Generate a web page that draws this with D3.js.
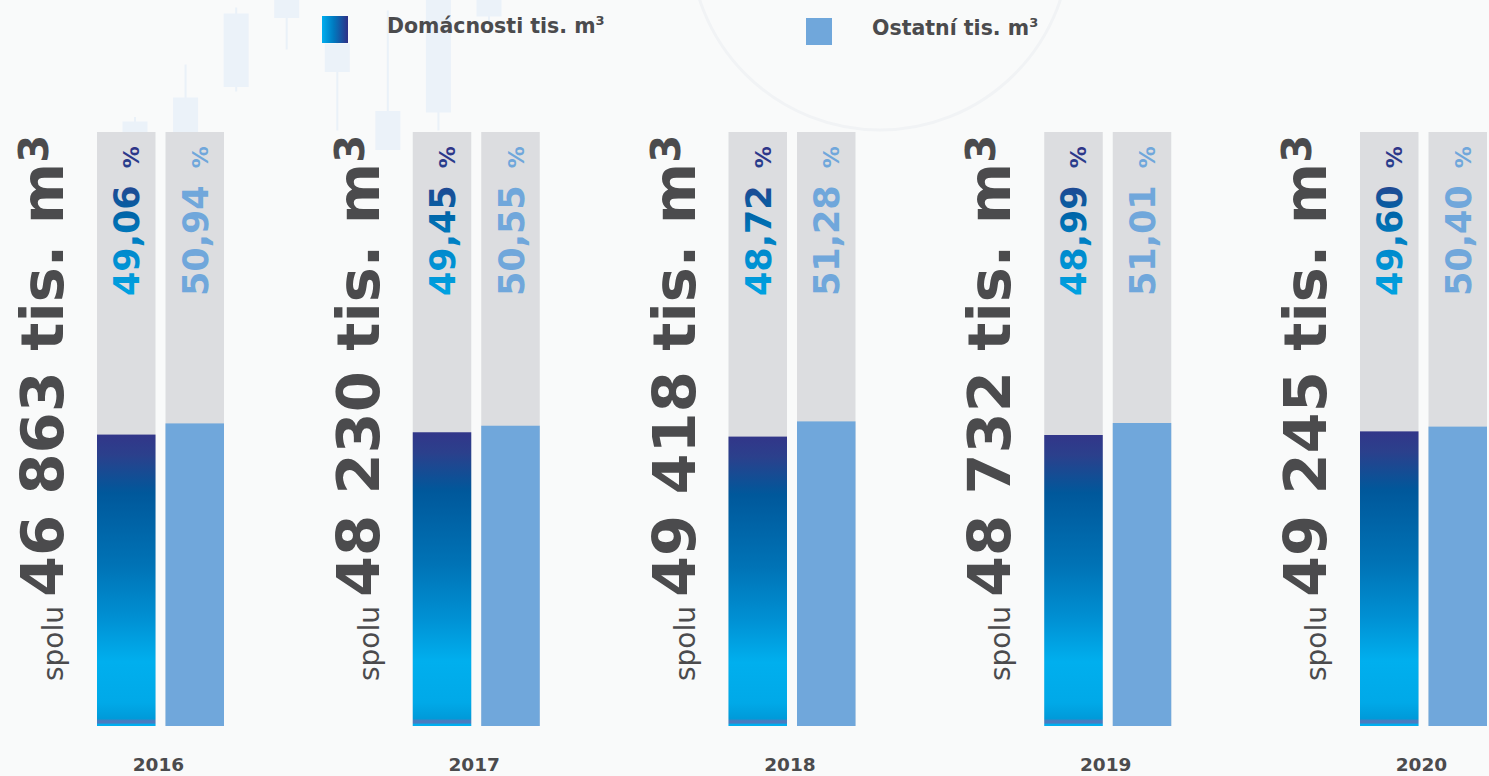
<!DOCTYPE html>
<html>
<head>
<meta charset="utf-8">
<script src="https://cdn.jsdelivr.net/npm/d3@7"></script>
<style>
  html, body { margin: 0; padding: 0; background: #f9fafa; }
  svg { display: block; font-family: "DejaVu Sans", Verdana, sans-serif; }
</style>
</head>
<body>
<svg id="chart" width="1489" height="776"></svg>
<script>
// data
const years = ["2016", "2017", "2018", "2019", "2020"];
const series = ["Domácnosti", "Ostatní"];
const domacnosti = [49.06, 49.45, 48.72, 48.99, 49.60];
const ostatni = [50.94, 50.55, 51.28, 51.01, 50.40];
const totals = ["46 863", "48 230", "49 418", "48 732", "49 245"];
const pctLabels = [["49,06", "49,45", "48,72", "48,99", "49,60"], ["50,94", "50,55", "51,28", "51,01", "50,40"]];
const legendLabels = ["Domácnosti tis. m", "Ostatní tis. m"];

// background candles (decoration): [open, close, high, low]
const candles = [[19, 0, 22, 0], [35, 7, 57, 5], [91, 42, 95, 39], [100, 88, 100, 67],
                 [71, 52, 73, 13], [26, 0, 93, 0], [100, 25, 100, 13], [100, 89, 100, 85]];

const W = 1489, H = 776;
const svg = d3.select("#chart");
const defs = svg.append("defs");

// gradients
const barGrad = defs.append("linearGradient")
    .attr("id", "domGrad").attr("x1", 0).attr("y1", 0).attr("x2", 0).attr("y2", 1);
[[0, "#323689"], [0.07, "#2b408c"], [0.2, "#00589b"], [0.45, "#0073b6"], [0.63, "#0090d3"],
 [0.78, "#00afee"], [0.92, "#00a9e8"], [0.975, "#009ad9"], [0.982, "#4a7cc0"], [0.99, "#4a7cc0"], [0.994, "#00aeef"], [1, "#00aeef"]]
    .forEach(s => barGrad.append("stop").attr("offset", s[0]).attr("stop-color", s[1]));

const textGrad = defs.append("linearGradient")
    .attr("id", "domTextGrad").attr("x1", 0).attr("y1", 0).attr("x2", 1).attr("y2", 0);
[[0, "#00a3e2"], [0.3, "#008acd"], [0.55, "#0065a8"], [0.72, "#1f4a93"], [1, "#2e3588"]]
    .forEach(s => textGrad.append("stop").attr("offset", s[0]).attr("stop-color", s[1]));

const legGrad = defs.append("linearGradient")
    .attr("id", "legGrad").attr("x1", 0).attr("y1", 0).attr("x2", 1).attr("y2", 0);
[[0, "#00aeef"], [0.45, "#0079bf"], [1, "#2e3086"]]
    .forEach(s => legGrad.append("stop").attr("offset", s[0]).attr("stop-color", s[1]));

const colors = {"Domácnosti": "url(#domGrad)", "Ostatní": "#70a7db"};
const textColors = ["url(#domTextGrad)", "#70a7db"];
const legendFills = ["url(#legGrad)", "#70a7db"];

// background
svg.append("rect").attr("width", W).attr("height", H).style("fill", "#f9fafa");
const deco = svg.append("g").attr("class", "deco");
const cx = d3.scaleLinear().domain([0, candles.length - 1]).range([135, 489]);
const cy = d3.scaleLinear().domain([0, 100]).range([150, 0]);
deco.append("circle").attr("cx", 880).attr("cy", -60).attr("r", 190)
    .style("fill", "none").style("stroke", "#f1f3f5").style("stroke-width", 3);
deco.selectAll("line").data(candles).join("line")
    .attr("x1", (d, i) => cx(i)).attr("x2", (d, i) => cx(i))
    .attr("y1", d => cy(d[2])).attr("y2", d => cy(d[3]))
    .style("stroke", "#eaf1f8").style("stroke-width", 2);
deco.selectAll("rect").data(candles).join("rect")
    .attr("x", (d, i) => cx(i) - 12.5).attr("width", 25)
    .attr("y", d => cy(Math.max(d[0], d[1])))
    .attr("height", d => Math.abs(cy(d[0]) - cy(d[1])))
    .style("fill", "#ebf2f9");

// scales
const x0 = d3.scalePoint().domain(years).range([97, 1360]);
const groupW = 127;
const x1 = d3.scaleBand().domain(series).range([0, groupW]).paddingInner(0.146);
const y = d3.scaleLinear().domain([0, 100]).range([726, 132]);

const rows = years.map((yr, i) => ({year: yr, total: totals[i],
    vals: [{s: series[0], v: domacnosti[i], label: pctLabels[0][i], k: 0},
           {s: series[1], v: ostatni[i], label: pctLabels[1][i], k: 1}]}));

const groups = svg.selectAll("g.year").data(rows).join("g")
    .attr("class", "year")
    .attr("transform", d => `translate(${x0(d.year)},0)`);

// grey background bars
groups.selectAll("rect.bg").data(d => d.vals).join("rect")
    .attr("class", "bg")
    .attr("x", d => x1(d.s)).attr("width", x1.bandwidth())
    .attr("y", y(100)).attr("height", y(0) - y(100))
    .style("fill", "#dcdde0");

// value bars
groups.selectAll("rect.bar").data(d => d.vals).join("rect")
    .attr("class", "bar")
    .attr("x", d => x1(d.s)).attr("width", x1.bandwidth())
    .attr("y", d => y(d.v)).attr("height", d => y(0) - y(d.v))
    .style("fill", d => colors[d.s]);

// percentage labels
const pct = groups.selectAll("text.pct").data(d => d.vals).join("text")
    .attr("class", "pct")
    .attr("transform", d => `translate(${x1(d.s) + x1.bandwidth() / 2 + 13},296) rotate(-90)`)
    .style("font-weight", "bold")
    .style("fill", d => textColors[d.k]);
pct.append("tspan").style("font-size", "35px").text(d => d.label);
pct.append("tspan").attr("dx", 17).style("font-size", "22px").text("%");

// total labels
const tot = groups.append("text")
    .attr("transform", `translate(-34,681) rotate(-90)`)
    .style("fill", "#4b4b4d");
tot.append("tspan").style("font-size", "28px").text("spolu ");
tot.append("tspan").style("font-size", "59px").style("font-weight", "bold").text(d => `${d.total} tis. m`);
tot.append("tspan").attr("dy", -15).style("font-size", "40px").style("font-weight", "bold").text("3");

// year labels
groups.append("text")
    .attr("x", groupW / 2 - 2).attr("y", 771)
    .attr("text-anchor", "middle")
    .style("font-size", "18.5px").style("font-weight", "bold").style("fill", "#4b4b4d")
    .text(d => d.year);

// legend
const legX = d3.scalePoint().domain(series).range([322, 806]);
const leg = svg.selectAll("g.legend").data(series).join("g")
    .attr("class", "legend")
    .attr("transform", (d, i) => `translate(${legX(d)},${i === 0 ? 16 : 18})`);
leg.append("rect").attr("width", 26).attr("height", 27)
    .style("fill", (d, i) => legendFills[i]);
const lt = leg.append("text")
    .attr("x", (d, i) => i === 0 ? 65 : 66).attr("y", 17)
    .style("font-size", "20.5px").style("font-weight", "bold").style("fill", "#4b4b4d");
lt.append("tspan").text((d, i) => legendLabels[i]);
lt.append("tspan").attr("dy", -8).style("font-size", "13px").text("3");
</script>
</body>
</html>
